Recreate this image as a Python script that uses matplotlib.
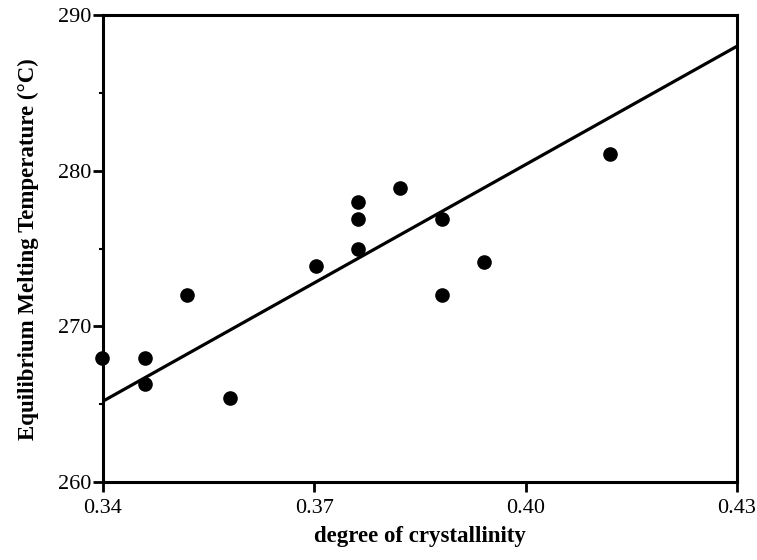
import matplotlib
matplotlib.use("Agg")
import matplotlib.pyplot as plt
from matplotlib.ticker import MultipleLocator

crystallinity = [0.3399, 0.3460, 0.3460, 0.3580, 0.3519, 0.3702, 0.3762, 0.3762,
                 0.3762, 0.3821, 0.3881, 0.3881, 0.3941, 0.4120]
melting_temp = [268.0, 268.0, 266.3, 265.4, 272.0, 273.9, 278.0, 276.9,
                275.0, 278.9, 276.9, 272.0, 274.15, 281.1]
fit_x = [0.34, 0.43]
fit_y = [265.2, 288.0]
x_ticks = [0.34, 0.37, 0.40, 0.43]
x_tick_labels = ["0.34", "0.37", "0.40", "0.43"]
y_ticks = [260, 270, 280, 290]

plt.rcParams['font.family'] = ['Liberation Serif', 'DejaVu Serif']

fig = plt.figure(figsize=(7.57, 5.6), dpi=100)
ax = fig.add_axes([0.136, 0.139, 0.8375, 0.834])

ax.plot(fit_x, fit_y, color='black', lw=2.3, solid_capstyle='butt', clip_on=False)
ax.plot(crystallinity, melting_temp, 'o', color='black', ms=9.5, clip_on=False)

ax.set_xlim(0.34, 0.43)
ax.set_ylim(260, 290)
ax.set_xticks(x_ticks)
ax.set_xticklabels(x_tick_labels)
ax.set_yticks(y_ticks)
ax.yaxis.set_minor_locator(MultipleLocator(5))

for s in ax.spines.values():
    s.set_linewidth(2.2)

ax.tick_params(axis='both', which='major', direction='out', length=7, width=2,
               labelsize=16, colors='black')
ax.tick_params(axis='x', which='major', pad=5)
ax.tick_params(axis='y', which='major', pad=1)
ax.tick_params(axis='y', which='minor', direction='out', length=3, width=1.5)

ax.set_xlabel('degree of crystallinity', fontsize=16.5, fontweight='bold', labelpad=6)
ax.set_ylabel('Equilibrium Melting Temperature (\u00b0C)', fontsize=16.5,
              fontweight='bold', labelpad=14)

fig.savefig('out.png', dpi=100)
